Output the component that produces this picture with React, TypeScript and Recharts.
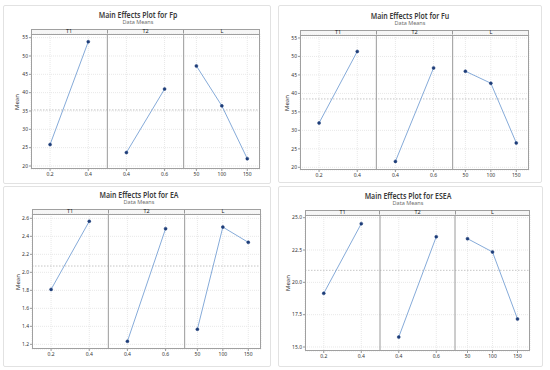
import React from 'react';
import { LineChart, Line, XAxis, YAxis, CartesianGrid, ReferenceLine } from 'recharts';

// ---- categories / tick labels ----
const factorNames = ['T1', 'T2', 'L'];
const t1Levels = ['0.2', '0.4'];
const t2Levels = ['0.4', '0.6'];
const lLevels = ['50', '100', '150'];

// ---- series values (means) ----
const fpT1 = [25.85, 53.9];
const fpT2 = [23.66, 41.0];
const fpL = [47.3, 36.4, 22.0];
const fpGrand = 35.3;

const fuT1 = [32.0, 51.35];
const fuT2 = [21.6, 46.9];
const fuL = [46.0, 42.75, 26.6];
const fuGrand = 38.5;

const eaT1 = [1.81, 2.567];
const eaT2 = [1.233, 2.485];
const eaL = [1.367, 2.503, 2.333];
const eaGrand = 2.07;

const eseaT1 = [19.15, 24.54];
const eseaT2 = [15.77, 23.53];
const eseaL = [23.38, 22.35, 17.17];
const eseaGrand = 20.93;

// ---- y tick values ----
const fpTicks = [20, 25, 30, 35, 40, 45, 50, 55];
const fuTicks = [20, 25, 30, 35, 40, 45, 50, 55];
const eaTicks = [1.2, 1.4, 1.6, 1.8, 2.0, 2.2, 2.4, 2.6];
const eseaTicks = [15.0, 17.5, 20.0, 22.5, 25.0];

const levelsList = [t1Levels, t2Levels, lLevels];

const FONT = '"Noto Sans", "Open Sans", sans-serif';
const LINE_COLOR = '#86abd9';
const DOT_COLOR = '#1d3c78';

type PanelProps = {
  title: string;
  values: number[][];
  grand: number;
  yTicks: number[];
  yDomain: [number, number];
  decimals: number;
  box: { x: number; y: number; w: number; h: number };
  plot: { l: number; r: number; t: number; b: number };
  frame: { x: number; y: number; w: number; h: number };
  titleCx: number;
  titleCy: number;
  subCy: number;
  meanX: number;
};

function Panel(p: PanelProps) {
  const { box, plot } = p;
  const xH = 12;
  const yAxisW = plot.l - box.x;
  const mTop = plot.t - box.y;
  const mRight = box.x + box.w - plot.r;
  const mBottom = box.y + box.h - plot.b - xH;

  // band-centred category positions on a 0..3 axis
  const xTicks: number[] = [];
  const xLabels: string[] = [];
  levelsList.forEach((lv, b) => {
    lv.forEach((name, i) => {
      xTicks.push(b + (i + 0.5) / lv.length);
      xLabels.push(name);
    });
  });
  const seriesData = levelsList.map((lv, b) =>
    lv.map((name, i) => ({ x: b + (i + 0.5) / lv.length, level: name, mean: p.values[b][i] }))
  );

  const stripH = 5;
  const plotW = plot.r - plot.l;
  const plotH = plot.b - plot.t;

  return (
    <>
      <div
        style={{
          position: 'absolute',
          left: p.frame.x,
          top: p.frame.y,
          width: p.frame.w,
          height: p.frame.h,
          border: '1px solid #e2e2e2',
          borderRadius: 2,
          boxSizing: 'border-box',
          background: '#fff',
        }}
      />
      <div
        style={{
          position: 'absolute',
          left: p.titleCx - 100,
          width: 200,
          top: p.titleCy - 4.5,
          height: 9,
          lineHeight: '9px',
          textAlign: 'center',
          fontSize: 8.5,
          fontWeight: 600,
          color: '#3a3a3a',
          fontFamily: FONT,
          transform: 'scaleX(0.82)',
          whiteSpace: 'nowrap',
        }}
      >
        {p.title}
      </div>
      <div
        style={{
          position: 'absolute',
          left: p.titleCx - 100,
          width: 200,
          top: p.subCy - 3,
          height: 6,
          lineHeight: '6px',
          textAlign: 'center',
          fontSize: 5.5,
          color: '#6e6e6e',
          fontFamily: FONT,
          whiteSpace: 'nowrap',
        }}
      >
        Data Means
      </div>
      <div
        style={{
          position: 'absolute',
          left: p.meanX - 20,
          top: (plot.t + plot.b) / 2 - 4,
          width: 40,
          height: 8,
          lineHeight: '8px',
          textAlign: 'center',
          fontSize: 6,
          color: '#333',
          fontFamily: FONT,
          transform: 'rotate(-90deg)',
        }}
      >
        Mean
      </div>
      {/* strip header */}
      <div
        style={{
          position: 'absolute',
          left: plot.l,
          top: plot.t - stripH,
          width: plotW,
          height: stripH,
          display: 'flex',
          background: '#f6f6f6',
        }}
      >
        {factorNames.map((f, i) => (
          <div
            key={f}
            style={{
              flex: 1,
              position: 'relative',
              borderLeft: i > 0 ? '1px solid #9a9a9a' : 'none',
              boxSizing: 'border-box',
            }}
          />
        ))}
      </div>
      <div style={{ position: 'absolute', left: box.x, top: box.y, fontFamily: FONT }}>
        <LineChart
          width={box.w}
          height={box.h}
          margin={{ top: mTop, right: mRight, bottom: mBottom, left: 0 }}
        >
          <CartesianGrid stroke="#e8e8e8" strokeDasharray="1 1" />
          <XAxis
            dataKey="x"
            type="number"
            domain={[0, 3]}
            ticks={xTicks}
            interval={0}
            height={xH}
            tickFormatter={(v: number, i: number) => xLabels[i]}
            tick={{ fontSize: 5, fill: '#333' }}
            tickSize={2}
            tickMargin={1}
            tickLine={{ stroke: '#999' }}
            axisLine={false}
            allowDataOverflow
          />
          <YAxis
            type="number"
            domain={p.yDomain}
            ticks={p.yTicks}
            interval={0}
            width={yAxisW}
            tickFormatter={(v: number) => v.toFixed(p.decimals)}
            tick={{ fontSize: 5, fill: '#333' }}
            tickSize={2}
            tickMargin={1}
            tickLine={{ stroke: '#999' }}
            axisLine={false}
            allowDataOverflow
          />
          <ReferenceLine y={p.grand} stroke="#b8b8b8" strokeDasharray="1.5 1.5" strokeWidth={0.8} />
          <ReferenceLine x={1} stroke="#9a9a9a" strokeWidth={1} />
          <ReferenceLine x={2} stroke="#9a9a9a" strokeWidth={1} />
          {seriesData.map((d, b) => (
            <Line
              key={b}
              data={d}
              dataKey="mean"
              type="linear"
              stroke={LINE_COLOR}
              strokeWidth={1}
              dot={{ r: 1.5, fill: DOT_COLOR, stroke: DOT_COLOR, strokeWidth: 0.5 }}
              isAnimationActive={false}
            />
          ))}
        </LineChart>
      </div>
      {/* frame */}
      <div
        style={{
          position: 'absolute',
          left: plot.l,
          top: plot.t - stripH,
          width: plotW,
          height: plotH + stripH,
          border: '1px solid #a0a0a0',
          boxSizing: 'border-box',
          pointerEvents: 'none',
        }}
      >
        <div style={{ position: 'absolute', left: 0, right: 0, top: stripH - 1, borderTop: '1px solid #a0a0a0' }} />
      </div>
      {/* strip labels on top */}
      <div
        style={{
          position: 'absolute',
          left: plot.l,
          top: plot.t - stripH - 1.5,
          width: plotW,
          height: 7,
          display: 'flex',
          pointerEvents: 'none',
        }}
      >
        {factorNames.map((f) => (
          <div
            key={f}
            style={{
              flex: 1,
              height: 7,
              lineHeight: '7px',
              fontSize: 5.5,
              textAlign: 'center',
              color: '#222',
              fontFamily: FONT,
            }}
          >
            {f}
          </div>
        ))}
      </div>
    </>
  );
}

export default function App() {
  return (
    <div style={{ position: 'absolute', left: 0, top: 0, width: 550, height: 370, background: '#fff', overflow: 'hidden' }}>
      <Panel
        title="Main Effects Plot for Fp"
        values={[fpT1, fpT2, fpL]}
        grand={fpGrand}
        yTicks={fpTicks}
        yDomain={[19.18, 56.0]}
        decimals={0}
        box={{ x: 0, y: 0, w: 275, h: 185 }}
        plot={{ l: 31, r: 260, t: 34, b: 169 }}
        frame={{ x: 3, y: 5, w: 268, h: 179 }}
        titleCx={138}
        titleCy={14}
        subCy={22}
        meanX={16.5}
      />
      <Panel
        title="Main Effects Plot for Fu"
        values={[fuT1, fuT2, fuL]}
        grand={fuGrand}
        yTicks={fuTicks}
        yDomain={[19.27, 55.8]}
        decimals={0}
        box={{ x: 275, y: 0, w: 275, h: 185 }}
        plot={{ l: 300, r: 529, t: 35, b: 170 }}
        frame={{ x: 278, y: 5, w: 264, h: 178 }}
        titleCx={410}
        titleCy={15}
        subCy={23}
        meanX={287}
      />
      <Panel
        title="Main Effects Plot for EA"
        values={[eaT1, eaT2, eaL]}
        grand={eaGrand}
        yTicks={eaTicks}
        yDomain={[1.148, 2.648]}
        decimals={1}
        box={{ x: 0, y: 185, w: 275, h: 185 }}
        plot={{ l: 32, r: 261, t: 214, b: 349 }}
        frame={{ x: 3, y: 186, w: 268, h: 181 }}
        titleCx={139}
        titleCy={194}
        subCy={202}
        meanX={18}
      />
      <Panel
        title="Main Effects Plot for ESEA"
        values={[eseaT1, eseaT2, eseaL]}
        grand={eseaGrand}
        yTicks={eseaTicks}
        yDomain={[14.69, 25.21]}
        decimals={1}
        box={{ x: 275, y: 185, w: 275, h: 185 }}
        plot={{ l: 305, r: 530, t: 215, b: 351 }}
        frame={{ x: 278, y: 186, w: 265, h: 181 }}
        titleCx={408}
        titleCy={195}
        subCy={203}
        meanX={288}
      />
    </div>
  );
}
